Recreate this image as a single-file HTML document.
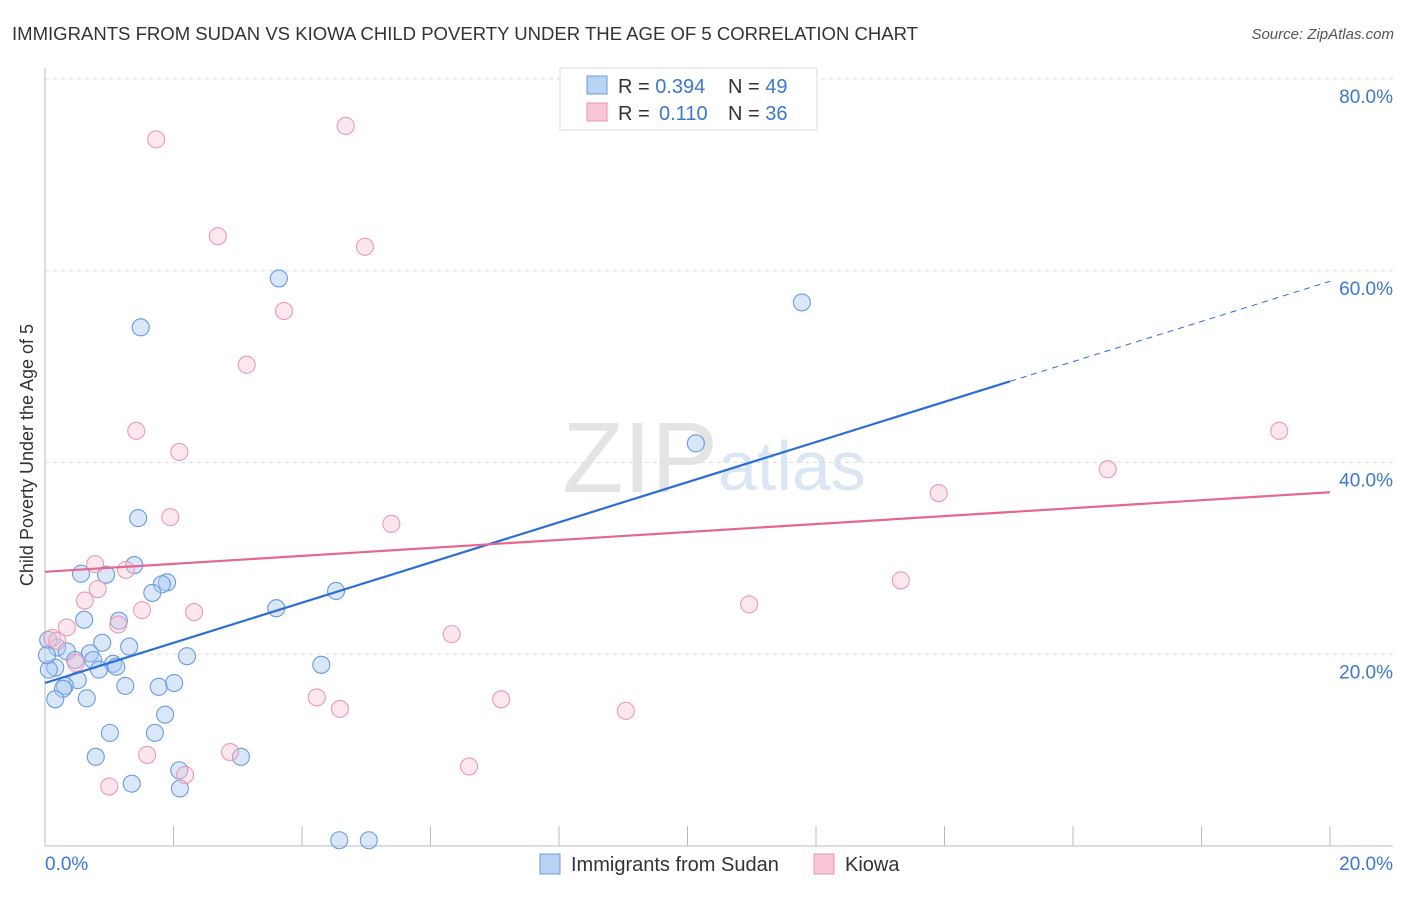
<!DOCTYPE html>
<html><head><meta charset="utf-8"><style>
body{margin:0;background:#fff;font-family:"Liberation Sans",sans-serif}
svg text{font-family:"Liberation Sans",sans-serif}
</style></head><body>
<svg id="c" width="1406" height="892">
<text x="12" y="40" font-size="18" fill="#333" textLength="906" lengthAdjust="spacingAndGlyphs">IMMIGRANTS FROM SUDAN VS KIOWA CHILD POVERTY UNDER THE AGE OF 5 CORRELATION CHART</text>
<text x="1394" y="39" font-size="15" fill="#555" font-style="italic" text-anchor="end">Source: ZipAtlas.com</text>
<text x="718" y="492" font-size="100" fill="#e4e4e4" text-anchor="end" font-family="Liberation Serif">ZIP</text>
<text x="718" y="490" font-size="70" fill="#dbe6f5">atlas</text>
<text transform="translate(33,455) rotate(-90)" font-size="18" fill="#333" text-anchor="middle">Child Poverty Under the Age of 5</text>
<g id="grid"></g><g id="pts"></g><g id="lines"></g>
<g>
<rect x="560" y="68" width="257" height="62" fill="#fff" stroke="#ddd"/>
<rect x="587" y="76" width="20" height="18" fill="#b8d3f4" stroke="#6a9be0"/>
<rect x="587" y="103" width="20" height="18" fill="#f9c6d5" stroke="#e895b0"/>
<text x="618" y="93" font-size="20" fill="#333">R = <tspan fill="#3a78d0">0.394</tspan><tspan x="728">N = </tspan><tspan fill="#3a78d0">49</tspan></text>
<text x="618" y="120" font-size="20" fill="#333">R = <tspan x="659" fill="#3a78d0">0.110</tspan><tspan x="728">N = </tspan><tspan fill="#3a78d0">36</tspan></text>
</g>
<g>
<rect x="540" y="854" width="20" height="20" fill="#b8d3f4" stroke="#6a9be0"/>
<text x="571" y="871" font-size="20" fill="#333">Immigrants from Sudan</text>
<rect x="814" y="854" width="20" height="20" fill="#f9c6d5" stroke="#e895b0"/>
<text x="845" y="871" font-size="20" fill="#333">Kiowa</text>
</g>
</svg>
<script>
const yTicks=[20,40,60,80];
const yTickLabels=["20.0%","40.0%","60.0%","80.0%"];
const xTickLabels=["0.0%","20.0%"];
const sudanX=[1.49,3.64,11.78,10.13,1.45,1.39,0.56,0.95,1.90,1.82,1.67,3.60,4.53,0.61,1.15,0.89,1.31,0.19,0.34,0.70,2.21,0.05,0.47,0.75,1.06,1.11,0.84,4.30,0.16,0.06,0.51,0.31,0.28,1.25,1.77,2.01,0.16,0.65,1.87,1.01,1.71,0.79,3.05,2.09,1.35,2.10,4.58,5.04,0.03];
const sudanY=[54.1,59.2,56.7,42.0,34.2,29.3,28.4,28.3,27.5,27.3,26.4,24.8,26.6,23.6,23.5,21.2,20.8,20.7,20.3,20.1,19.8,21.5,19.4,19.4,19.0,18.7,18.4,18.9,18.6,18.4,17.3,16.7,16.4,16.7,16.6,17.0,15.3,15.4,13.7,11.8,11.8,9.3,9.3,7.9,6.5,6.0,0.6,0.6,19.9];
const kiowaX=[1.73,4.68,2.69,4.98,3.72,3.14,1.42,2.09,1.95,5.39,0.78,1.26,0.82,0.62,1.51,2.32,1.14,0.34,0.11,0.19,0.48,6.33,4.23,4.59,7.10,9.04,6.60,2.88,1.59,2.18,1.00,10.96,13.32,13.91,16.54,19.21];
const kiowaY=[73.7,75.1,63.6,62.5,55.8,50.2,43.3,41.1,34.3,33.6,29.4,28.8,26.8,25.6,24.6,24.4,23.1,22.8,21.7,21.4,19.1,22.1,15.5,14.3,15.3,14.1,8.3,9.8,9.5,7.4,6.2,25.2,27.7,36.8,39.3,43.3];
const sudanTrend=[17.0,58.9];
const kiowaTrend=[28.6,36.9];
const NS="http://www.w3.org/2000/svg";
const X=v=>45+v*64.25, Y=v=>846-v*9.5875;
function mk(t,a,p){const e=document.createElementNS(NS,t);for(const k in a)e.setAttribute(k,a[k]);p.appendChild(e);return e;}
const g=document.getElementById('grid');
yTicks.forEach((t,i)=>{
 const l=mk('line',{x1:45,x2:1393,y1:Y(t),y2:Y(t),stroke:'#ddd','stroke-dasharray':'4,4'},g);
 
 
 const tx=mk('text',{x:1393,y:Y(t)+24,'font-size':19,fill:'#3a78d0','text-anchor':'end'},g);
 tx.textContent=yTickLabels[i];
 
 
});
const ax=mk('line',{x1:45,x2:1393,y1:846,y2:846,stroke:'#bbb'},g);


const ay=mk('line',{x1:45,x2:45,y1:68,y2:846,stroke:'#bbb'},g);


for(let i=1;i<=10;i++){
 const tk=mk('line',{x1:X(i*2),x2:X(i*2),y1:826,y2:846,stroke:'#bbb'},g);
 
 
}
[[0,'start',45],[20,'end',1393]].forEach((d,i)=>{
 const t=mk('text',{x:d[2],y:870,'font-size':19,fill:'#3a78d0','text-anchor':d[1]},g);
 t.textContent=xTickLabels[i];
 
 
});
const p=document.getElementById('pts');
sudanX.forEach((x,i)=>{
 const c=mk('circle',{cx:X(x),cy:Y(sudanY[i]),r:8.5,fill:'rgba(170,202,242,0.45)',stroke:'#6a9be0','stroke-width':1.1},p);
 
 
});
kiowaX.forEach((x,i)=>{
 const c=mk('circle',{cx:X(x),cy:Y(kiowaY[i]),r:8.5,fill:'rgba(248,195,212,0.4)',stroke:'#eb9ab4','stroke-width':1.1},p);
 
 
});
const L=document.getElementById('lines');
const bs=(sudanTrend[1]-sudanTrend[0])/20, xm=15.02;
const b1=mk('line',{x1:X(0),y1:Y(sudanTrend[0]),x2:X(xm),y2:Y(sudanTrend[0]+bs*xm),stroke:'#2a6fd6','stroke-width':2.2},L);


const b2=mk('line',{x1:X(xm),y1:Y(sudanTrend[0]+bs*xm),x2:X(20),y2:Y(sudanTrend[1]),stroke:'#2a6fd6','stroke-width':1,'stroke-dasharray':'6,5'},L);


const k1=mk('line',{x1:X(0),y1:Y(kiowaTrend[0]),x2:X(20),y2:Y(kiowaTrend[1]),stroke:'#e5678f','stroke-width':2.2},L);


</script>
</body></html>
